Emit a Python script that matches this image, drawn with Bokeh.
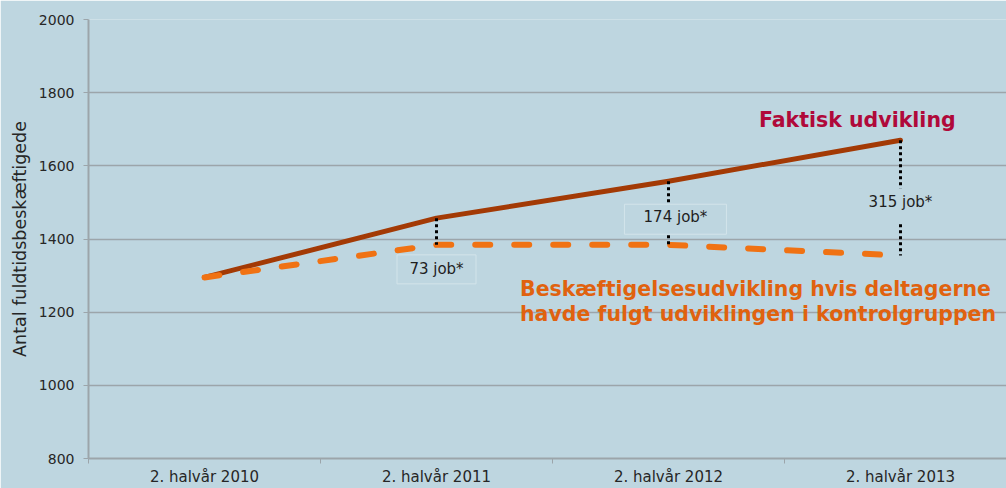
from bokeh.plotting import figure
from bokeh.models import FixedTicker, Range1d, Label
from bokeh.embed import file_html
from bokeh.resources import INLINE
from bokeh.core.properties import value

# ---- data ----
periods = ["2. halvår 2010", "2. halvår 2011", "2. halvår 2012", "2. halvår 2013"]
faktisk = [1295, 1457, 1558, 1670]
kontrol = [1295, 1384, 1384, 1355]
y_ticks = [800, 1000, 1200, 1400, 1600, 1800, 2000]

BG = "#bed6e0"
AXC = "#9ca5aa"
FONT = value("DejaVu Sans")
xs = list(range(len(periods)))

p = figure(width=1006, height=488, output_backend="svg", toolbar_location=None,
           x_range=Range1d(-0.5, 3.457), y_range=Range1d(800, 2000),
           min_border_left=88, min_border_right=0, min_border_top=19,
           min_border_bottom=29)
p.background_fill_color = BG
p.border_fill_color = BG
p.outline_line_color = None

# x axis
xa = p.xaxis[0]
xa.ticker = FixedTicker(ticks=xs, minor_ticks=[x - 0.5 for x in xs] + [xs[-1] + 0.5])
xa.major_label_overrides = {i: lab for i, lab in zip(xs, periods)}
xa.major_tick_line_color = None
xa.major_tick_out = 0
xa.minor_tick_out = 5
xa.minor_tick_in = 0
xa.minor_tick_line_color = AXC
xa.axis_line_color = AXC
xa.axis_line_width = 2
xa.major_label_standoff = 4
xa.major_label_text_font = "DejaVu Sans"
xa.major_label_text_font_size = "15px"
xa.major_label_text_color = "#262626"

# y axis
ya = p.yaxis[0]
ya.ticker = FixedTicker(ticks=y_ticks, minor_ticks=[])
ya.major_tick_out = 5
ya.major_tick_in = 0
ya.major_tick_line_color = AXC
ya.minor_tick_line_color = None
ya.axis_line_color = AXC
ya.axis_line_width = 2
ya.major_label_standoff = 9
ya.major_label_text_font = "DejaVu Sans"
ya.major_label_text_font_size = "14px"
ya.major_label_text_color = "#262626"
ya.axis_label = "Antal fuldtidsbeskæftigede"
ya.axis_label_text_font = "DejaVu Sans"
ya.axis_label_text_font_size = "17.5px"
ya.axis_label_text_font_style = "normal"
ya.axis_label_text_color = "#262626"
ya.axis_label_standoff = 6

p.xgrid.grid_line_color = None
p.ygrid.ticker = FixedTicker(ticks=y_ticks, minor_ticks=[])
p.ygrid.grid_line_color = AXC
p.ygrid.grid_line_width = 1.5

# lines
p.line(xs, faktisk, line_color="#a33a05", line_width=5, line_cap="round", line_join="round")
p.line(xs, kontrol, line_color="#f07213", line_width=6, line_dash="15 24", line_cap="round")

# dotted difference markers
p.segment(x0=xs[1:], y0=faktisk[1:], x1=xs[1:], y1=kontrol[1:],
          line_color="black", line_width=3, line_dash="3 3")

diff_txt = [f"{f - k} job*" for f, k in zip(faktisk[1:], kontrol[1:])]
mids = [(f + k) / 2 for f, k in zip(faktisk[1:], kontrol[1:])]
lab_x = [xs[1], xs[2] + 0.03, xs[3]]
lab_y = [kontrol[1] - 67, mids[1] - 12, mids[2] - 12]

# label boxes
p.rect(x=[lab_x[0], lab_x[1]], y=[lab_y[0], lab_y[1] - 5], width=[79, 102], height=[29, 30],
       width_units="screen", height_units="screen",
       fill_color=BG, line_color="#d3e4ea", line_width=1)
p.rect(x=[lab_x[2]], y=[lab_y[2] - 8], width=[76], height=[34],
       width_units="screen", height_units="screen",
       fill_color=BG, line_color=None)

p.text(x=lab_x, y=lab_y, text=diff_txt, text_font=FONT, text_font_size="15px",
       text_color="#1e1e1e", text_align="center", text_baseline="middle")

# annotations
p.text(x=[xs[2] + 0.39], y=[faktisk[3] + 55], text=["Faktisk udvikling"],
       text_font=FONT, text_font_style="bold", text_font_size="20.5px",
       text_color="#b0093a", text_align="left", text_baseline="middle")
p.text(x=[xs[1] + 0.36, xs[1] + 0.36], y=[kontrol[3] - 93, kontrol[3] - 161],
       text=["Beskæftigelsesudvikling hvis deltagerne",
             "havde fulgt udviklingen i kontrolgruppen"],
       text_font=FONT, text_font_style="bold", text_font_size="20.5px",
       text_color="#e0620f", text_align="left", text_baseline="middle")

p.add_layout(Label(x=xs[3] + 0.02, y=740, text="DEN EUROPÆISKE UNION",
                   text_font="DejaVu Sans", text_font_size="6px",
                   text_color="#555555", text_baseline="middle"))
p.add_layout(Label(x=xs[3] + 0.39, y=733, text="\u2003\u2003",
                   text_font="DejaVu Sans", text_font_size="9px",
                   text_color="#1f4e9c", text_baseline="middle",
                   background_fill_color="#1f4e9c", border_line_color="#e8eef4"))

open("out.html", "w").write(file_html(p, INLINE))
